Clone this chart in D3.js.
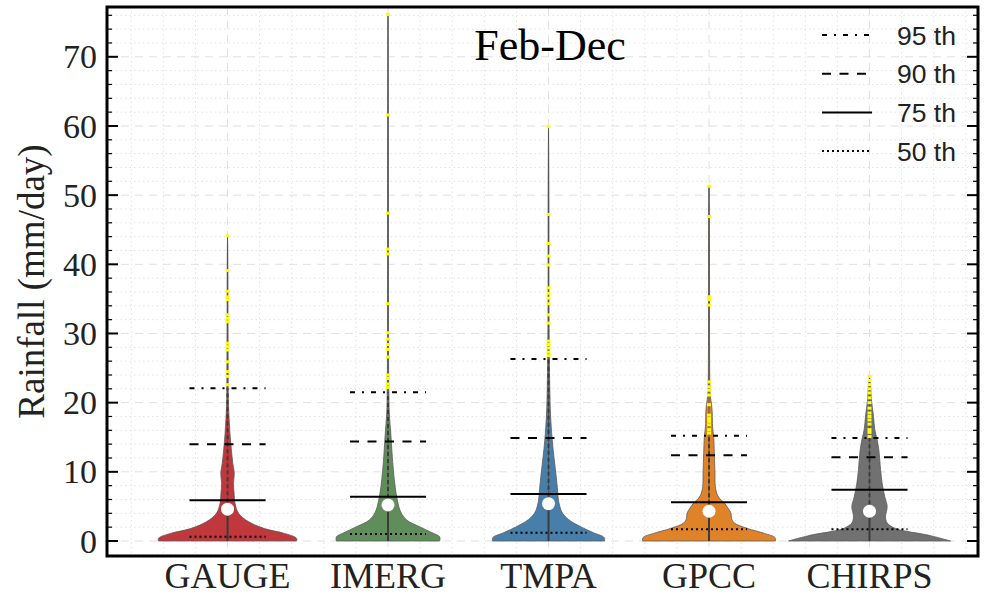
<!DOCTYPE html>
<html>
<head>
<meta charset="utf-8">
<script src="https://cdn.jsdelivr.net/npm/d3@7"></script>
<style>
  html, body { margin: 0; padding: 0; background: #fff; }
  svg { display: block; }
</style>
</head>
<body>
<svg id="chart" width="986" height="597"></svg>
<script>
// ---------------- data ----------------
const categories = ["GAUGE", "IMERG", "TMPA", "GPCC", "CHIRPS"];
const colors = ["#c0373c", "#608e5a", "#487eaa", "#e08228", "#707170"];
const p95 = [22.1, 21.5, 26.3, 15.2, 14.9];
const p90 = [14.0, 14.4, 14.9, 12.4, 12.1];
const p75 = [5.9, 6.4, 6.8, 5.6, 7.4];
const p50 = [0.6, 1.0, 1.2, 1.7, 1.7];
const means = [4.6, 5.2, 5.4, 4.3, 4.3];
const maxima = [44.0, 76.2, 59.9, 51.3, 23.8];

// violin half-widths (in category units) at rainfall levels [value, density]
const gaugeDensity = [[0,0.43],[0.4,0.43],[1.1,0.355],[1.8,0.23],[2.8,0.13],[4.0,0.069],[5.5,0.046],[6.9,0.041],[8.3,0.037],[9.8,0.042],[11.2,0.033],[13.2,0.024],[15.6,0.015],[18,0.009],[20.4,0.005],[25,0.004],[32,0.003],[40,0.002],[44,0]];
const imergDensity = [[0,0.322],[0.6,0.322],[1.2,0.274],[2.1,0.193],[3.0,0.118],[4.2,0.079],[5.9,0.058],[7.9,0.044],[10.3,0.033],[12.7,0.025],[15.6,0.017],[18.5,0.008],[22,0.005],[30,0.003],[50,0.0025],[76.2,0]];
const tmpaDensity = [[0,0.349],[0.5,0.347],[1.2,0.28],[2.1,0.197],[3.1,0.125],[4.2,0.083],[5.9,0.062],[7.4,0.056],[9.3,0.048],[11.7,0.036],[14.6,0.023],[18.5,0.012],[22,0.008],[27,0.005],[35,0.003],[50,0.0025],[59.9,0]];
const gpccDensity = [[0,0.414],[0.5,0.411],[1.1,0.345],[1.8,0.241],[2.6,0.158],[3.3,0.14],[4.0,0.137],[4.7,0.12],[5.5,0.095],[6.2,0.064],[6.9,0.048],[7.9,0.039],[9.8,0.037],[12.7,0.033],[15.1,0.029],[16.5,0.022],[18.5,0.02],[19.7,0.016],[21,0.008],[23,0.005],[30,0.003],[45,0.0025],[51.3,0]];
const chirpsDensity = [[0,0.505],[0.9,0.355],[1.4,0.23],[1.8,0.162],[2.6,0.11],[3.5,0.1],[5.0,0.11],[6.4,0.095],[8.3,0.079],[10.3,0.069],[11.7,0.064],[13.2,0.058],[14.6,0.048],[16.1,0.033],[18,0.025],[20.4,0.012],[22.5,0.007],[23.8,0]];
const densities = [gaugeDensity, imergDensity, tmpaDensity, gpccDensity, chirpsDensity];

// values above the 95th percentile (yellow markers)
const gaugeOutliers = [44.1,39.1,36.1,35.3,34.9,32.7,32.2,31.7,28.6,28.1,27.6,25.9,24.5,23.8,22.6];
const imergOutliers = [76.1,61.6,47.4,42.2,41.5,34.3,30.1,29.2,28.4,27.7,26.6,24.0,23.5,22.7,22.2];
const tmpaOutliers = [59.9,47.2,43.0,41.2,39.9,36.6,35.8,35.1,34.3,32.7,31.5,28.9,28.4,27.9,27.3,26.8];
const gpccOutliers = [51.3,46.9,35.3,34.9,34.1,23.0,22.3,21.8,21.1,19.7,18.2,17.7,17.3,16.8,16.1,15.6];
const chirpsOutliers = [23.8,23.2,22.6,22.0,21.4,20.7,20.0,19.2,18.5,18.0,17.5,16.9,16.1,15.7,15.1];
const outliers = [gaugeOutliers, imergOutliers, tmpaOutliers, gpccOutliers, chirpsOutliers];

const yTicks = [0, 10, 20, 30, 40, 50, 60, 70];
const title = "Feb-Dec";
const yLabel = "Rainfall (mm/day)";
const legendLabels = ["95 th", "90 th", "75 th", "50 th"];
const legendDashes = ["5,7,2,7", "9,8.5", null, "2,3"];

// ---------------- layout ----------------
const svg = d3.select("#chart");
const L = 107, R = 978, T = 7, B = 556;
const x = d3.scaleLinear().domain([-0.751, 4.676]).range([L, R]);
const y = d3.scaleLinear().domain([-2.17, 77.2]).range([B, T]);
const serif = "'Liberation Serif', 'Times New Roman', serif";
const sans = "'Liberation Sans', Arial, sans-serif";

// grid
const grid = svg.append("g");
const minorX = d3.range(-0.6, 4.7, 0.2).filter(v => Math.abs(v - Math.round(v)) > 0.01);
grid.selectAll(".mgx").data(minorX).join("line")
  .attr("x1", d => x(d)).attr("x2", d => x(d)).attr("y1", T).attr("y2", B)
  .attr("stroke", "#e2e2e2").attr("stroke-width", 1).attr("stroke-dasharray", "1.5,3");
const minorY = d3.range(-2, 77, 2).filter(v => v % 10 !== 0);
grid.selectAll(".mgy").data(minorY).join("line")
  .attr("x1", L).attr("x2", R).attr("y1", d => y(d)).attr("y2", d => y(d))
  .attr("stroke", "#e2e2e2").attr("stroke-width", 1).attr("stroke-dasharray", "1.5,3");
grid.selectAll(".Mgx").data(d3.range(categories.length)).join("line")
  .attr("x1", d => x(d)).attr("x2", d => x(d)).attr("y1", T).attr("y2", B)
  .attr("stroke", "#e0e0e0").attr("stroke-width", 1).attr("stroke-dasharray", "8,6");
grid.selectAll(".Mgy").data(yTicks).join("line")
  .attr("x1", L).attr("x2", R).attr("y1", d => y(d)).attr("y2", d => y(d))
  .attr("stroke", "#e0e0e0").attr("stroke-width", 1).attr("stroke-dasharray", "8,6");

// violins
const area = d3.area()
  .curve(d3.curveCatmullRom)
  .y(d => y(d.v));

const vg = svg.append("g");
categories.forEach((c, i) => {
  const pts = densities[i].map(([v, w]) => ({ v, w }));
  vg.append("path")
    .datum(pts)
    .attr("d", area.x0(d => x(i - d.w)).x1(d => x(i + d.w)))
    .attr("fill", colors[i])
    .attr("stroke", "#5a5a5a")
    .attr("stroke-width", 0.8);
  // thin center line to max
  vg.append("line")
    .attr("x1", x(i)).attr("x2", x(i)).attr("y1", y(0)).attr("y2", y(maxima[i]))
    .attr("stroke", "#555").attr("stroke-width", 1);
  // solid inner line below mean
  vg.append("line")
    .attr("x1", x(i)).attr("x2", x(i)).attr("y1", y(0)).attr("y2", y(means[i]))
    .attr("stroke", "#3c3c3c").attr("stroke-width", 2);
  // dashed inner line mean -> 95th
  vg.append("line")
    .attr("x1", x(i)).attr("x2", x(i)).attr("y1", y(means[i])).attr("y2", y(p95[i]))
    .attr("stroke", "#3c3c3c").attr("stroke-width", 2).attr("stroke-dasharray", "4,3");
  // outliers
  vg.selectAll(null).data(outliers[i]).join("rect")
    .attr("x", x(i) - 2).attr("y", d => y(d) - 1.5)
    .attr("width", 4).attr("height", 3)
    .attr("fill", "#ffff00");
  // mean dot
  vg.append("circle")
    .attr("cx", x(i)).attr("cy", y(means[i])).attr("r", 6.5)
    .attr("fill", "#fff");
});

// percentile lines
const pct = [p95, p90, p75, p50];
const pg = svg.append("g");
pct.forEach((arr, k) => {
  pg.selectAll(null).data(arr).join("line")
    .attr("x1", (d, i) => x(i - 0.237)).attr("x2", (d, i) => x(i + 0.237))
    .attr("y1", d => y(d)).attr("y2", d => y(d))
    .attr("stroke", "#000").attr("stroke-width", 2)
    .attr("stroke-dasharray", legendDashes[k]);
});

// frame + ticks
const ag = svg.append("g");
const minorTicks = d3.range(0, 77, 2).filter(v => v % 10 !== 0);
[[L, 1], [R, -1]].forEach(([x0, dir]) => {
  ag.selectAll(null).data(yTicks).join("line")
    .attr("x1", x0).attr("x2", x0 + dir * 11).attr("y1", d => y(d)).attr("y2", d => y(d))
    .attr("stroke", "#000").attr("stroke-width", 2);
  ag.selectAll(null).data(minorTicks).join("line")
    .attr("x1", x0).attr("x2", x0 + dir * 5).attr("y1", d => y(d)).attr("y2", d => y(d))
    .attr("stroke", "#000").attr("stroke-width", 1.2);
});
ag.append("rect").attr("x", L).attr("y", T).attr("width", R - L).attr("height", B - T)
  .attr("fill", "none").attr("stroke", "#000").attr("stroke-width", 3);

// tick labels
ag.selectAll(null).data(yTicks).join("text")
  .attr("x", L - 10).attr("y", d => y(d)).attr("dy", "0.34em")
  .attr("text-anchor", "end").attr("font-family", serif).attr("font-size", 34)
  .attr("fill", "#222").text(d => d);
ag.selectAll(null).data(categories).join("text")
  .attr("x", (d, i) => x(i)).attr("y", 588)
  .attr("text-anchor", "middle").attr("font-family", serif).attr("font-size", 36)
  .attr("fill", "#222").text(d => d);

// y label
svg.append("text")
  .attr("transform", `translate(44, ${(T + B) / 2}) rotate(-90)`)
  .attr("text-anchor", "middle").attr("font-family", serif).attr("font-size", 37)
  .attr("fill", "#222").text(yLabel);

// title
svg.append("text")
  .attr("x", 550).attr("y", 60).attr("text-anchor", "middle")
  .attr("font-family", serif).attr("font-size", 44).attr("fill", "#000").text(title);

// legend
const lg = svg.append("g");
legendLabels.forEach((lab, k) => {
  const ly = 35 + k * 38.7;
  lg.append("line").attr("x1", 822).attr("x2", 872).attr("y1", ly).attr("y2", ly)
    .attr("stroke", "#000").attr("stroke-width", 2).attr("stroke-dasharray", legendDashes[k]);
  lg.append("text").attr("x", 897).attr("y", ly).attr("dy", "0.36em")
    .attr("font-family", sans).attr("font-size", 26.5).attr("fill", "#222").text(lab);
});
</script>
</body>
</html>
